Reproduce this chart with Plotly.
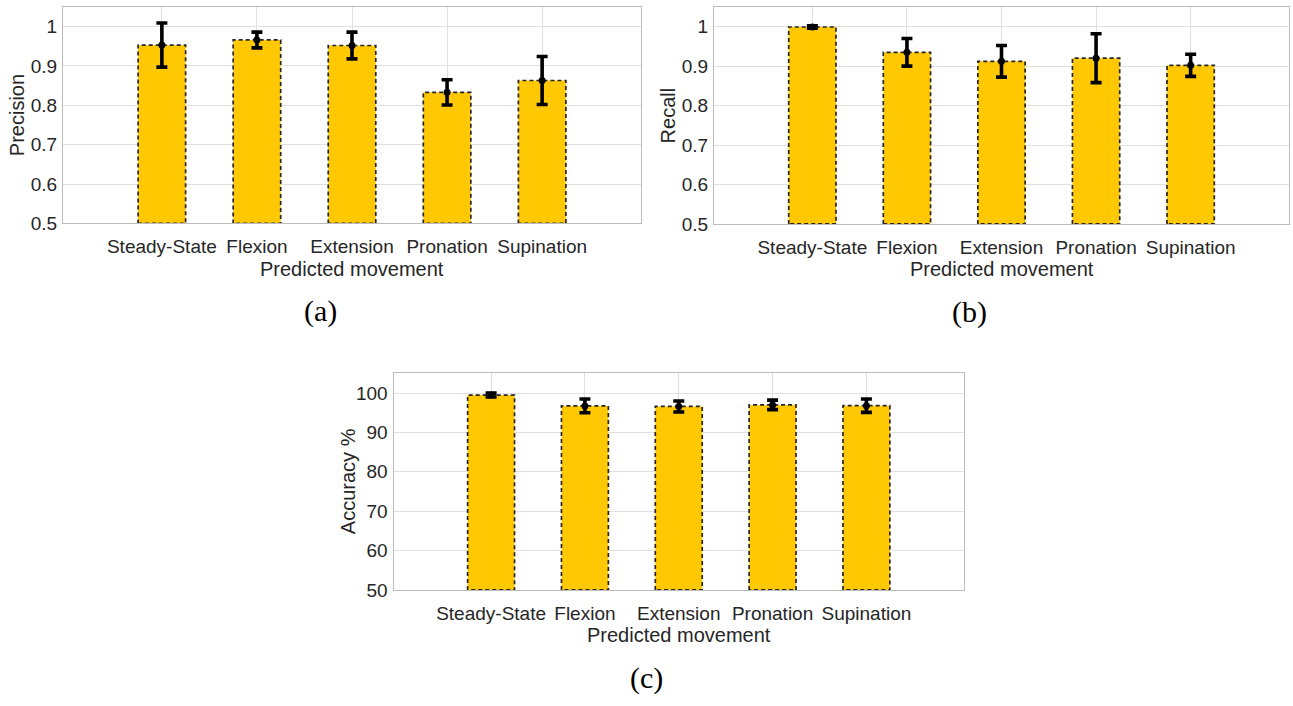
import plotly.graph_objects as go

categories = ["Steady-State", "Flexion", "Extension", "Pronation", "Supination"]
positions = [1, 2, 3, 4, 5]

precision_mean = [0.953, 0.966, 0.952, 0.833, 0.863]
precision_err = [0.056, 0.020, 0.034, 0.032, 0.061]

recall_mean = [0.999, 0.935, 0.912, 0.920, 0.902]
recall_err = [0.003, 0.035, 0.040, 0.062, 0.028]

accuracy_mean = [99.5, 96.75, 96.6, 97.0, 96.8]
accuracy_err = [0.5, 1.75, 1.4, 1.2, 1.7]

y_ticks_ratio = [0.5, 0.6, 0.7, 0.8, 0.9, 1.0]
y_ticks_acc = [50, 60, 70, 80, 90, 100]

panels = [
    dict(name="a", mean=precision_mean, err=precision_err, ytitle="Precision",
         yrange=[0.5, 1.05], ticks=y_ticks_ratio,
         xdom=[63 / 1293, 641 / 1293], ydom=[(706 - 227) / 706, (706 - 7) / 706]),
    dict(name="b", mean=recall_mean, err=recall_err, ytitle="Recall",
         yrange=[0.5, 1.05], ticks=y_ticks_ratio,
         xdom=[714 / 1293, 1289 / 1293], ydom=[(706 - 227.5) / 706, (706 - 7) / 706]),
    dict(name="c", mean=accuracy_mean, err=accuracy_err, ytitle="Accuracy %",
         yrange=[50, 105], ticks=y_ticks_acc,
         xdom=[393.5 / 1293, 964 / 1293], ydom=[(706 - 599.3) / 706, (706 - 379.3) / 706]),
]

BAR_W = 0.5
FILL = "rgb(255,200,0)"
EDGE = "#262626"
TXT = "#262626"
SANS = "Arial"
SERIF = "Liberation Serif"

fig = go.Figure()
annotations = []

for i, p in enumerate(panels):
    sfx = "" if i == 0 else str(i + 1)
    xa, ya = "x" + sfx, "y" + sfx
    base = p["yrange"][0]

    fig.add_trace(go.Bar(
        x=positions, y=p["mean"], width=BAR_W, marker=dict(color=FILL, line=dict(width=0)),
        xaxis=xa, yaxis=ya, showlegend=False, hoverinfo="skip"))

    # dashed outline of each bar built from the data values
    ox, oy = [], []
    for xv, yv in zip(positions, p["mean"]):
        l, r = xv - BAR_W / 2, xv + BAR_W / 2
        ox += [l, l, r, r, l, None]
        oy += [base, yv, yv, base, base, None]
    fig.add_trace(go.Scatter(
        x=ox, y=oy, mode="lines", line=dict(color=EDGE, width=1.7, dash="4px,3px"),
        xaxis=xa, yaxis=ya, showlegend=False, hoverinfo="skip"))

    fig.add_trace(go.Scatter(
        x=positions, y=p["mean"], mode="markers",
        marker=dict(color="black", size=7, symbol="circle"),
        error_y=dict(type="data", array=p["err"], color="black", thickness=3.6, width=5.5),
        xaxis=xa, yaxis=ya, showlegend=False))

    axis_common = dict(showline=True, mirror=True, linecolor="#bcbcbc", linewidth=1,
                       showgrid=True, gridcolor="#e0e0e0", gridwidth=1, zeroline=False,
                       ticks="", tickfont=dict(family=SANS, size=19, color=TXT))
    fig.layout["xaxis" + sfx] = dict(
        domain=p["xdom"], range=[-0.04, 6.04], tickmode="array", tickvals=positions,
        ticktext=categories, anchor=ya, ticklabelstandoff=6, **axis_common)
    fig.layout["yaxis" + sfx] = dict(
        domain=p["ydom"], range=p["yrange"], tickmode="array", tickvals=p["ticks"],
        ticktext=[("%g" % t) for t in p["ticks"]], anchor=xa, ticklabelstandoff=1, **axis_common)

    xmid = (p["xdom"][0] + p["xdom"][1]) / 2
    ybot_px = 706 - p["ydom"][0] * 706
    ymid = (p["ydom"][0] + p["ydom"][1]) / 2
    # x axis title
    annotations.append(dict(text="Predicted movement", x=xmid, y=(706 - (ybot_px + 46)) / 706,
                            xref="paper", yref="paper", showarrow=False,
                            xanchor="center", yanchor="middle",
                            font=dict(family=SANS, size=20, color=TXT)))
    # y axis title
    left_px = p["xdom"][0] * 1293
    annotations.append(dict(text=p["ytitle"], x=(left_px - 46) / 1293, y=ymid,
                            xref="paper", yref="paper", showarrow=False, textangle=-90,
                            xanchor="center", yanchor="middle",
                            font=dict(family=SANS, size=20, color=TXT)))
    # panel label
    annotations.append(dict(text="(%s)" % p["name"], x=(xmid * 1293 - 32) / 1293,
                            y=(706 - (ybot_px + 89)) / 706,
                            xref="paper", yref="paper", showarrow=False,
                            xanchor="center", yanchor="middle",
                            font=dict(family=SERIF, size=30, color="black")))

fig.update_layout(
    width=1293, height=706, margin=dict(l=0, r=0, t=0, b=0),
    paper_bgcolor="white", plot_bgcolor="white",
    barmode="overlay", annotations=annotations, showlegend=False,
)

fig.write_html("out.html", config={"displayModeBar": False})
